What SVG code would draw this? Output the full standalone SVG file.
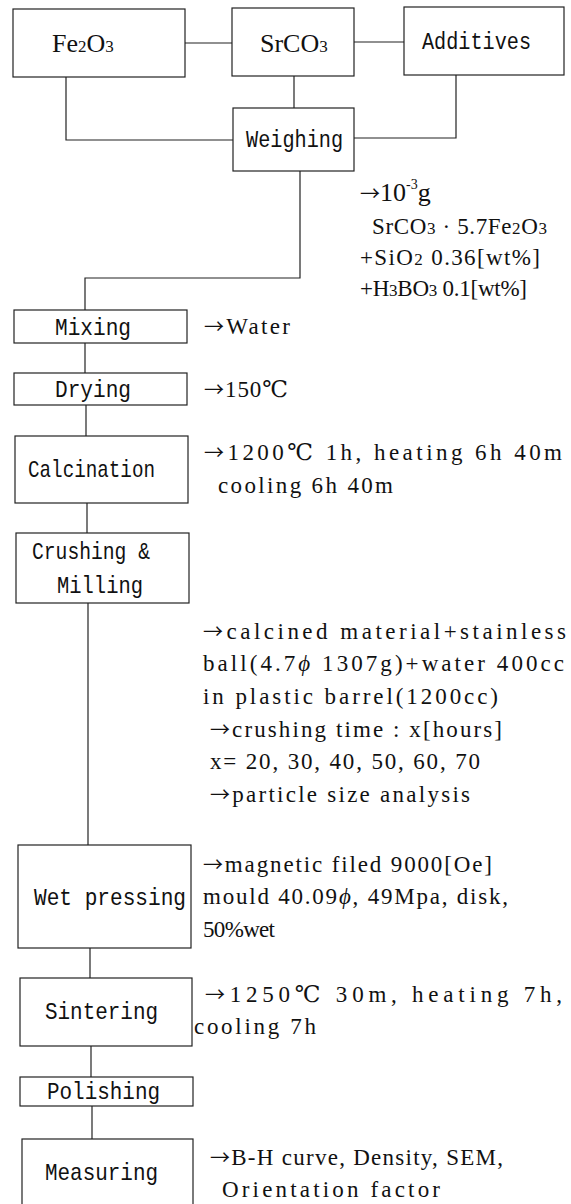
<svg xmlns="http://www.w3.org/2000/svg" width="571" height="1204" viewBox="0 0 571 1204">
<style>
.box{fill:#fff;stroke:#222;stroke-width:1.2}
.ln{fill:none;stroke:#222;stroke-width:1.2}
.lbl{font-family:"Liberation Mono","DejaVu Sans Mono",monospace;font-size:24px;fill:#111}
.ser{font-family:"Liberation Serif","DejaVu Serif",serif;font-size:26px;fill:#111}
.ann{font-family:"Liberation Serif","DejaVu Serif",serif;font-size:23px;fill:#111}
.sub{font-size:17px}
.arr{font-family:"Noto Sans CJK JP","DejaVu Sans",sans-serif;font-size:20px}
</style>
<rect width="571" height="1204" fill="#fff"/>
<g id="connectors">
<path class="ln" d="M185 43H232"/>
<path class="ln" d="M354 42H404"/>
<path class="ln" d="M66 77V140H233"/>
<path class="ln" d="M294 76V108"/>
<path class="ln" d="M456 75V138H354"/>
<path class="ln" d="M300 171V278H85V310"/>
<path class="ln" d="M85 343V373"/>
<path class="ln" d="M86 405V436"/>
<path class="ln" d="M87 503V533"/>
<path class="ln" d="M88 603V845"/>
<path class="ln" d="M90 948V978"/>
<path class="ln" d="M91 1046V1077"/>
<path class="ln" d="M92 1106V1139"/>
</g>
<g id="fe2o3">
<rect class="box" x="13" y="9" width="172" height="68"/>
<text class="ser" x="52" y="52">Fe<tspan class="sub">2</tspan>O<tspan class="sub">3</tspan></text>
</g>
<g id="srco3">
<rect class="box" x="232" y="8" width="122" height="68"/>
<text class="ser" x="260" y="52">SrCO<tspan class="sub">3</tspan></text>
</g>
<g id="additives">
<rect class="box" x="404" y="7" width="160" height="68"/>
<text class="lbl" x="422" y="49" textLength="109" lengthAdjust="spacingAndGlyphs">Additives</text>
</g>
<g id="weighing">
<rect class="box" x="233" y="108" width="121" height="63"/>
<text class="lbl" x="246" y="147" textLength="97" lengthAdjust="spacingAndGlyphs">Weighing</text>
<text class="ser" x="360" y="201" font-size="26"><tspan class="arr">→</tspan>10<tspan font-size="14" dy="-12">-3</tspan><tspan dy="12">g</tspan></text>
<text class="ann" x="372" y="234" textLength="175" lengthAdjust="spacing">SrCO<tspan class="sub">3</tspan> · 5.7Fe<tspan class="sub">2</tspan>O<tspan class="sub">3</tspan></text>
<text class="ann" x="360" y="265" textLength="180" lengthAdjust="spacing">+SiO<tspan class="sub">2</tspan> 0.36[wt%]</text>
<text class="ann" x="360" y="296" textLength="167" lengthAdjust="spacing">+H<tspan class="sub">3</tspan>BO<tspan class="sub">3</tspan> 0.1[wt%]</text>
</g>
<g id="mixing">
<rect class="box" x="14" y="310" width="173" height="33"/>
<text class="lbl" x="55" y="335" textLength="76" lengthAdjust="spacingAndGlyphs">Mixing</text>
<text class="ann" x="204" y="334" textLength="86" lengthAdjust="spacing"><tspan class="arr">→</tspan>Water</text>
</g>
<g id="drying">
<rect class="box" x="14" y="373" width="173" height="32"/>
<text class="lbl" x="55" y="397" textLength="76" lengthAdjust="spacingAndGlyphs">Drying</text>
<text class="ann" x="204" y="397" font-size="24" textLength="84" lengthAdjust="spacing"><tspan class="arr">→</tspan>150℃</text>
</g>
<g id="calcination">
<rect class="box" x="15" y="436" width="173" height="67"/>
<text class="lbl" x="28" y="477" textLength="127" lengthAdjust="spacingAndGlyphs">Calcination</text>
<text class="ann" x="204" y="460" textLength="358" lengthAdjust="spacing"><tspan class="arr">→</tspan>1200℃ 1h, heating 6h 40m</text>
<text class="ann" x="218" y="493" textLength="175" lengthAdjust="spacing">cooling 6h 40m</text>
</g>
<g id="crushing">
<rect class="box" x="16" y="533" width="173" height="70"/>
<text class="lbl" x="32" y="559" textLength="118" lengthAdjust="spacingAndGlyphs">Crushing &amp;</text>
<text class="lbl" x="57" y="593" textLength="86" lengthAdjust="spacingAndGlyphs">Milling</text>
<text class="ann" x="203" y="639" textLength="363" lengthAdjust="spacing"><tspan class="arr">→</tspan>calcined material+stainless</text>
<text class="ann" x="203" y="671" textLength="361" lengthAdjust="spacing">ball(4.7<tspan font-style="italic">ϕ</tspan> 1307g)+water 400cc</text>
<text class="ann" x="203" y="704" textLength="295" lengthAdjust="spacing">in plastic barrel(1200cc)</text>
<text class="ann" x="210" y="737" textLength="292" lengthAdjust="spacing"><tspan class="arr">→</tspan>crushing time : x[hours]</text>
<text class="ann" x="210" y="769" textLength="270" lengthAdjust="spacing">x= 20, 30, 40, 50, 60, 70</text>
<text class="ann" x="210" y="802" textLength="260" lengthAdjust="spacing"><tspan class="arr">→</tspan>particle size analysis</text>
</g>
<g id="wetpressing">
<rect class="box" x="18" y="845" width="173" height="103"/>
<text class="lbl" x="34" y="905" textLength="152" lengthAdjust="spacingAndGlyphs">Wet pressing</text>
<text class="ann" x="203" y="872" textLength="289" lengthAdjust="spacing"><tspan class="arr">→</tspan>magnetic filed 9000[Oe]</text>
<text class="ann" x="203" y="904" textLength="305" lengthAdjust="spacing">mould 40.09<tspan font-style="italic">ϕ</tspan>, 49Mpa, disk,</text>
<text class="ann" x="203" y="937" textLength="72" lengthAdjust="spacing">50%wet</text>
</g>
<g id="sintering">
<rect class="box" x="20" y="978" width="172" height="68"/>
<text class="lbl" x="45" y="1019" textLength="113" lengthAdjust="spacingAndGlyphs">Sintering</text>
<text class="ann" x="205" y="1002" textLength="357" lengthAdjust="spacing"><tspan class="arr">→</tspan>1250℃  30m,  heating  7h,</text>
<text class="ann" x="194" y="1034" textLength="122" lengthAdjust="spacing">cooling 7h</text>
</g>
<g id="polishing">
<rect class="box" x="20" y="1077" width="173" height="29"/>
<text class="lbl" x="47" y="1099" textLength="113" lengthAdjust="spacingAndGlyphs">Polishing</text>
</g>
<g id="measuring">
<rect class="box" x="22" y="1139" width="171" height="74"/>
<text class="lbl" x="45" y="1180" textLength="113" lengthAdjust="spacingAndGlyphs">Measuring</text>
<text class="ann" x="210" y="1165" textLength="293" lengthAdjust="spacing"><tspan class="arr">→</tspan>B-H curve, Density, SEM,</text>
<text class="ann" x="222" y="1197" textLength="218" lengthAdjust="spacing">Orientation factor</text>
</g>
</svg>
